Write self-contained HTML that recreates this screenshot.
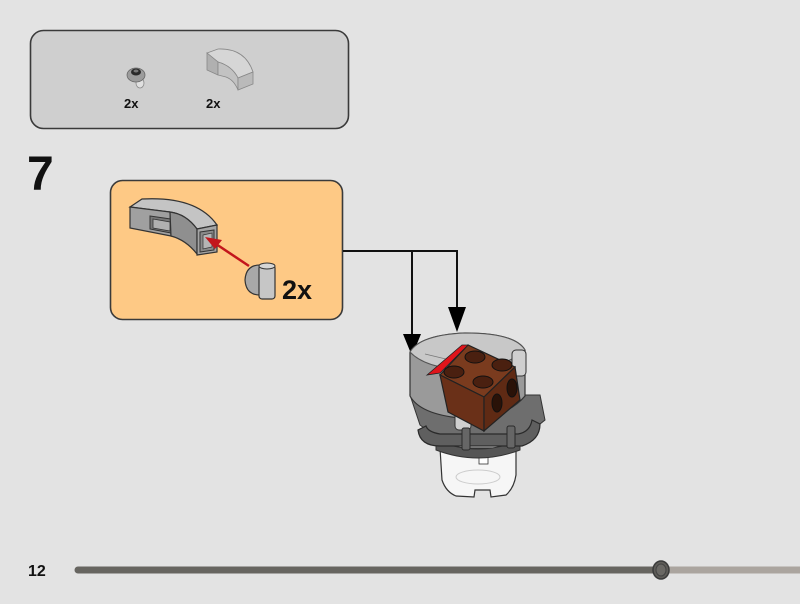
<!DOCTYPE html>
<html><head><meta charset="utf-8"><style>
html,body{margin:0;padding:0;background:#e3e3e3;}
svg{display:block;}
text{font-family:"Liberation Sans",sans-serif;}
</style></head><body>
<svg width="800" height="604" viewBox="0 0 800 604" xmlns="http://www.w3.org/2000/svg">
<rect width="800" height="604" fill="#e3e3e3"/>
<!-- parts list box -->
<rect x="30.5" y="30.5" width="318" height="98" rx="13" fill="#cfcfcf" stroke="#3a3a3a" stroke-width="1.6"/>
<!-- small clip part -->
<ellipse cx="140" cy="83" rx="4" ry="5" fill="#e0e0e0" stroke="#888" stroke-width="0.8"/>
<ellipse cx="136" cy="75" rx="9" ry="7" fill="#9c9c9c" stroke="#666" stroke-width="0.8"/>
<ellipse cx="136" cy="72" rx="5" ry="3.5" fill="#2a2a2a"/>
<ellipse cx="136" cy="71" rx="2.5" ry="1.5" fill="#777"/>
<text x="124" y="108" font-size="13" font-weight="bold" fill="#111">2x</text>
<!-- small curved brick -->
<path d="M207,53 L218,49 Q245,48 253,72 L238,78 Q232,66 218,62 Z" fill="#d6d6d6" stroke="#888" stroke-width="0.8"/>
<path d="M207,53 L218,62 L218,75 L207,70 Z" fill="#b0b0b0" stroke="#888" stroke-width="0.8"/>
<path d="M218,62 Q232,66 238,78 L238,90 Q234,80 226,77 L218,75 Z" fill="#c2c2c2" stroke="#888" stroke-width="0.8"/>
<path d="M238,78 L253,72 L253,84 L238,90 Z" fill="#bababa" stroke="#888" stroke-width="0.8"/>
<text x="206" y="108" font-size="13" font-weight="bold" fill="#111">2x</text>

<!-- step number -->
<text x="27" y="190" font-size="48" font-weight="bold" fill="#111">7</text>

<!-- callout box -->
<rect x="110.5" y="180.5" width="232" height="139" rx="12" fill="#fec985" stroke="#3a3a3a" stroke-width="1.6"/>
<!-- curved slope brick -->
<path d="M130,207 L142,199 Q197,196 217,225 L197,229 Q186,214 170,212 Z" fill="#c4c4c4" stroke="#333" stroke-width="1.2"/>
<path d="M130,207 L170,212 L171,236 L130,228 Z" fill="#a0a0a0" stroke="#333" stroke-width="1.2"/>
<path d="M150,216 L171,219 L171,233 L150,229 Z" fill="#777" stroke="#333" stroke-width="1"/>
<path d="M153,219 L170,222 L170,231 L153,228 Z" fill="#b0b0b0" stroke="#333" stroke-width="0.8"/>
<path d="M170,212 Q186,214 197,229 L197,254 Q186,240 171,236 Z" fill="#8f8f8f" stroke="#333" stroke-width="1.2"/>
<path d="M197,229 L217,225 L217,252 L197,255 Z" fill="#a5a5a5" stroke="#333" stroke-width="1.2"/>
<path d="M200,232 L214,230 L214,250 L200,252 Z" fill="#8a8a8a" stroke="#333" stroke-width="1"/>
<path d="M203,235 L212,233 L212,247 L203,249 Z" fill="#b5b5b5" stroke="#333" stroke-width="0.7"/>
<!-- red arrow -->
<line x1="249" y1="266" x2="216" y2="244" stroke="#c3161c" stroke-width="2.5"/>
<polygon points="205,237 222,240 215,249" fill="#c3161c"/>
<!-- clip -->
<path d="M262,265 Q246,264 245,280 Q246,296 262,295 Z" fill="#a8a8a8" stroke="#333" stroke-width="1.2"/>
<rect x="259" y="265" width="16" height="34" rx="3" fill="#c6c6c6" stroke="#333" stroke-width="1.2"/>
<ellipse cx="267" cy="266" rx="8" ry="3" fill="#d6d6d6" stroke="#333" stroke-width="1"/>
<text x="282" y="299" font-size="27" font-weight="bold" fill="#111">2x</text>

<!-- connector lines -->
<polyline points="343,251 457,251 457,312" fill="none" stroke="#111" stroke-width="2"/>
<line x1="412" y1="251" x2="412" y2="335" stroke="#111" stroke-width="2"/>
<polygon points="403,334 421,334 412,356" fill="#000"/>
<polygon points="448,307 466,307 457,332" fill="#000"/>

<!-- model -->
<path d="M410,395 L420,425 L440,440 L520,440 L545,420 L540,395 Z" fill="#6e6e6e" stroke="#333" stroke-width="1"/>
<path d="M440,448 L442,480 Q446,492 456,496 L474,497 L475,490 L490,490 L491,497 L506,495 Q514,488 516,475 L516,448 Z" fill="#f6f6f6" stroke="#333" stroke-width="1.2"/>
<ellipse cx="478" cy="477" rx="22" ry="7" fill="none" stroke="#ccc" stroke-width="1"/>
<rect x="479" y="457" width="9" height="7" fill="#fff" stroke="#333" stroke-width="0.8"/>
<path d="M436,440 Q478,458 520,440 L520,450 Q478,466 436,450 Z" fill="#555" stroke="#333" stroke-width="1"/>
<path d="M410,352 Q420,335 465,333 Q515,333 525,350 L525,396 Q505,420 460,418 Q420,414 410,396 Z" fill="#9a9a9a" stroke="#333" stroke-width="1.2"/>
<path d="M410,352 Q420,335 465,333 Q515,333 525,350 Q505,368 465,370 Q425,368 410,352 Z" fill="#c8c8c8" stroke="#555" stroke-width="1"/>
<line x1="425" y1="354" x2="450" y2="360" stroke="#777" stroke-width="0.8"/>
<rect x="512" y="350" width="14" height="26" rx="4" fill="#cfcfcf" stroke="#333" stroke-width="1"/>
<rect x="455" y="400" width="16" height="30" rx="4" fill="#cfcfcf" stroke="#333" stroke-width="1"/>
<path d="M418,430 Q420,446 440,446 L522,446 Q540,440 540,424 L532,420 Q530,432 518,434 L440,434 Q428,432 426,426 Z" fill="#5f5f5f" stroke="#2a2a2a" stroke-width="1.2"/>
<rect x="462" y="428" width="8" height="22" rx="2" fill="#666" stroke="#2a2a2a" stroke-width="1"/>
<rect x="507" y="426" width="8" height="22" rx="2" fill="#666" stroke="#2a2a2a" stroke-width="1"/>
<path d="M440,375 L468,345 L515,367 L484,397 Z" fill="#7a3b1e" stroke="#222" stroke-width="1.2"/>
<path d="M440,375 L484,397 L484,431 L448,412 Z" fill="#6a3018" stroke="#222" stroke-width="1.2"/>
<path d="M484,397 L515,367 L520,400 L484,431 Z" fill="#5f2a14" stroke="#222" stroke-width="1.2"/>
<path d="M427,375 L462,345 L468,345 L455,358 L440,373 Z" fill="#e0141b" stroke="#222" stroke-width="0.8"/>
<g fill="#4a2010" stroke="#111" stroke-width="1">
<ellipse cx="475" cy="357" rx="10" ry="6"/>
<ellipse cx="502" cy="365" rx="10" ry="6"/>
<ellipse cx="454" cy="372" rx="10" ry="6"/>
<ellipse cx="483" cy="382" rx="10" ry="6"/>
</g>
<g fill="#2a1208" stroke="#111" stroke-width="1">
<ellipse cx="512" cy="388" rx="5" ry="9"/>
<ellipse cx="497" cy="403" rx="5" ry="9"/>
</g>

<!-- footer -->
<text x="28" y="576" font-size="16" font-weight="bold" fill="#111">12</text>
<line x1="661" y1="570" x2="800" y2="570" stroke="#aba59f" stroke-width="7"/>
<line x1="78" y1="570" x2="661" y2="570" stroke="#676560" stroke-width="7" stroke-linecap="round"/>
<ellipse cx="661" cy="570" rx="8" ry="9" fill="#5e5c58" stroke="#3a3a3a" stroke-width="1.5"/>
<ellipse cx="661" cy="570" rx="5" ry="6" fill="#6a6864" stroke="#444" stroke-width="1"/>
</svg>
</body></html>
